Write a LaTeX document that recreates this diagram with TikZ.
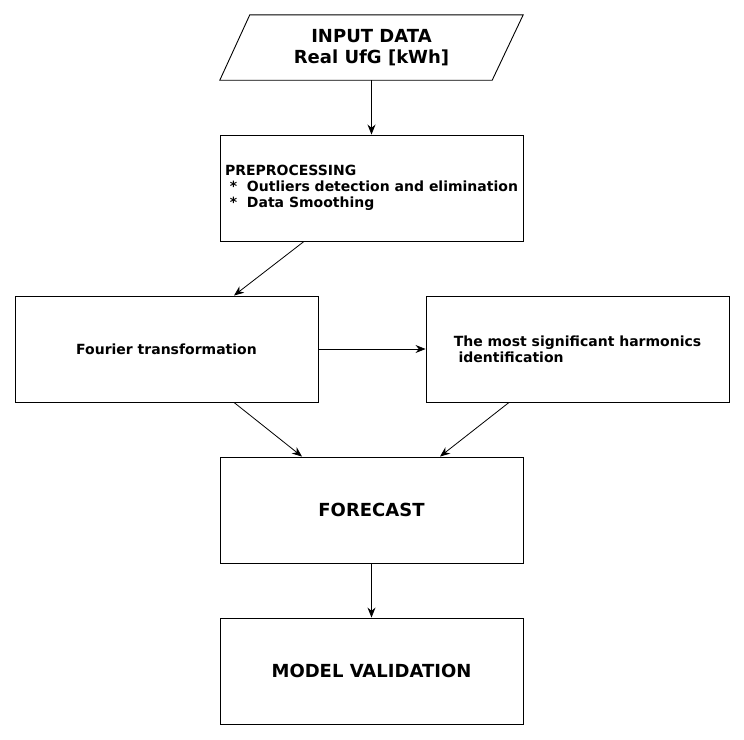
\documentclass[tikz,border=0pt]{standalone}
\usepackage{fontspec}
\setmainfont{DejaVu Sans}
\usetikzlibrary{positioning,arrows.meta}

\begin{document}
\begin{tikzpicture}[
  x=1pt, y=-1pt,
  box/.style={draw, line width=0.9pt, minimum width=303pt, minimum height=106pt, inner sep=0pt, align=left, font=\bfseries\fontsize{14}{16}\selectfont},
  bigtxt/.style={font=\bfseries\fontsize{18}{21}\selectfont},
  arr/.style={-{Stealth[length=10pt,width=8pt]}, line width=0.8pt}
]
\useasboundingbox (0,0) rectangle (744,739);

\node[minimum width=303pt, minimum height=65pt, inner sep=0pt, align=center, bigtxt] (input) at (371.5,47.5) {INPUT DATA\\Real UfG [kWh]};
\draw[line width=0.9pt] ([xshift=30pt]input.north west) -- (input.north east) -- ([xshift=-31pt]input.south east) -- (input.south west) -- cycle;

\node[box] (pre) at (371.5,188) {PREPROCESSING\\\ *\ \ Outliers detection and elimination\\\ *\ \ Data Smoothing};
\node[box] (four) at (166.5,349) {Fourier transformation};
\node[box] (harm) at (577.5,349) {The most significant harmonics\\\ identification};
\node[box, bigtxt] (fore) at (371.5,510) {FORECAST};
\node[box, bigtxt] (valid) at (371.5,671) {MODEL VALIDATION};

\draw[arr] (input.south) -- (pre.north);
\draw[arr] ([xshift=-67.5pt]pre.south) -- ([xshift=67.5pt]four.north);
\draw[arr] (four.east) -- (harm.west);
\draw[arr] ([xshift=67.5pt]four.south) -- ([xshift=-69.5pt]fore.north);
\draw[arr] ([xshift=-68.5pt]harm.south) -- ([xshift=68.5pt]fore.north);
\draw[arr] (fore.south) -- (valid.north);
\end{tikzpicture}
\end{document}
